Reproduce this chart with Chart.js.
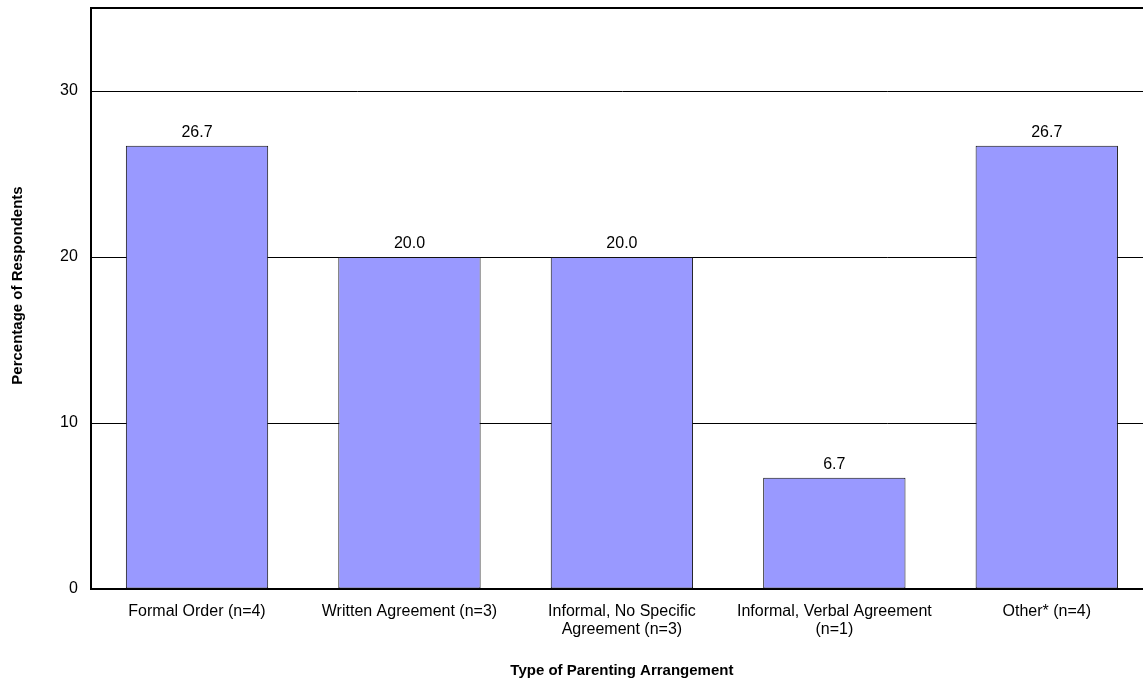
<!DOCTYPE html>
<html>
<head>
<meta charset="utf-8">
<script src="https://cdn.jsdelivr.net/npm/chart.js@4/dist/chart.umd.min.js"></script>
<style>
  html, body { margin: 0; padding: 0; background: #fff; overflow: hidden; }
  #wrap { width: 1153px; height: 680px; position: relative; }
</style>
</head>
<body>
<div id="wrap"><canvas id="c"></canvas></div>
<script>
const categories = [
  ["Formal Order (n=4)"],
  ["Written Agreement (n=3)"],
  ["Informal, No Specific", "Agreement (n=3)"],
  ["Informal, Verbal Agreement", "(n=1)"],
  ["Other* (n=4)"]
];
const percentages = [26.7, 20.0, 20.0, 6.7, 26.7];
const yTickValues = [0, 10, 20, 30];
const yMax = 35;
const xTitle = "Type of Parenting Arrangement";
const yTitle = "Percentage of Respondents";

const FONT = "'Liberation Sans', Arial, sans-serif";

const valueLabels = {
  id: 'valueLabels',
  afterDatasetsDraw(chart) {
    const ctx = chart.ctx;
    const meta = chart.getDatasetMeta(0);
    ctx.save();
    ctx.font = "16px " + FONT;
    ctx.fillStyle = "#000";
    ctx.textAlign = "center";
    ctx.textBaseline = "alphabetic";
    meta.data.forEach((bar, i) => {
      ctx.fillText(percentages[i].toFixed(1), bar.x, bar.y - 9);
    });
    ctx.restore();
  }
};

const yAxisTitle = {
  id: 'yAxisTitle',
  afterDraw(chart) {
    const ctx = chart.ctx;
    const area = chart.chartArea;
    ctx.save();
    ctx.font = "bold 15px " + FONT;
    ctx.fillStyle = "#000";
    ctx.textAlign = "center";
    ctx.textBaseline = "middle";
    ctx.translate(18, (area.top + area.bottom) / 2 - 13);
    ctx.rotate(-Math.PI / 2);
    ctx.fillText(yTitle, 0, 0);
    ctx.restore();
  }
};

new Chart(document.getElementById('c'), {
  type: 'bar',
  data: {
    labels: categories,
    datasets: [{
      data: percentages,
      backgroundColor: '#9999FF',
      borderColor: '#111',
      borderWidth: 1,
      borderSkipped: false,
      categoryPercentage: 1.0,
      barPercentage: 0.67
    }]
  },
  options: {
    responsive: true,
    maintainAspectRatio: false,
    animation: false,
    layout: { padding: { left: 47, top: 8, right: 0, bottom: 0 } },
    plugins: {
      legend: { display: false },
      tooltip: { enabled: false }
    },
    scales: {
      x: {
        grid: { display: false, drawTicks: false },
        border: { display: true, color: '#000', width: 2 },
        ticks: {
          color: '#000',
          font: { family: FONT, size: 16, lineHeight: 1.125 },
          padding: 14,
          maxRotation: 0,
          minRotation: 0,
          autoSkip: false
        },
        title: {
          display: true,
          text: xTitle,
          color: '#000',
          font: { family: FONT, size: 15, weight: 'bold', lineHeight: 1.2 },
          padding: { top: 9, bottom: 0 }
        }
      },
      y: {
        min: 0,
        max: yMax,
        afterBuildTicks(scale) {
          scale.ticks = yTickValues.concat([yMax]).map(v => ({ value: v }));
        },
        afterFit(scale) {
          scale.paddingTop = 0;
          scale.paddingBottom = 0;
        },
        grid: {
          color: '#000',
          lineWidth: (c) => (c.tick && c.tick.value === yMax) ? 2 : 1,
          drawTicks: false
        },
        border: { display: true, color: '#000', width: 2 },
        ticks: {
          color: '#000',
          font: { family: FONT, size: 16 },
          padding: 13,
          callback: (v) => yTickValues.includes(v) ? String(v) : ''
        },
        title: { display: false }
      }
    }
  },
  plugins: [valueLabels, yAxisTitle]
});
</script>
</body>
</html>
